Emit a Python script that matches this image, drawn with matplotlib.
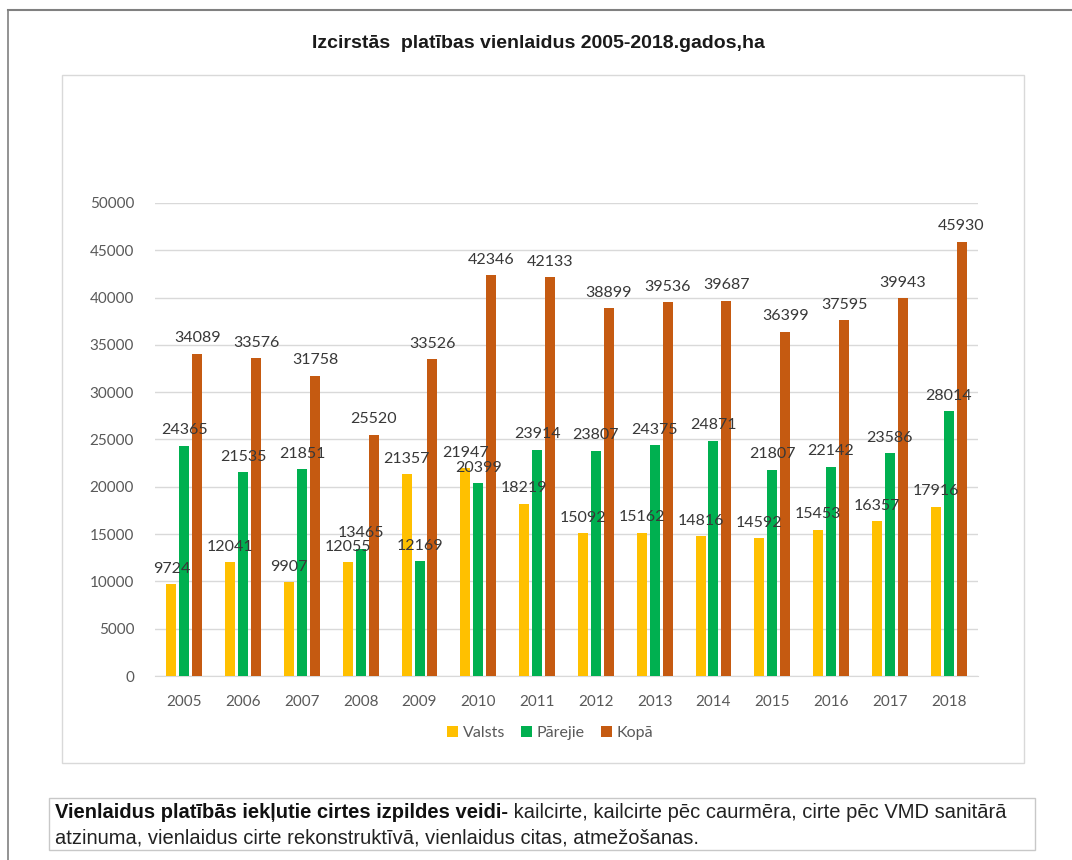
import numpy as np
import matplotlib
matplotlib.use('Agg')
import matplotlib.pyplot as plt
from matplotlib.patches import Rectangle
from matplotlib.lines import Line2D

# dati
years = ['2005', '2006', '2007', '2008', '2009', '2010', '2011',
         '2012', '2013', '2014', '2015', '2016', '2017', '2018']
valsts = [9724, 12041, 9907, 12055, 21357, 21947, 18219,
          15092, 15162, 14816, 14592, 15453, 16357, 17916]
parejie = [24365, 21535, 21851, 13465, 12169, 20399, 23914,
           23807, 24375, 24871, 21807, 22142, 23586, 28014]
kopa = [34089, 33576, 31758, 25520, 33526, 42346, 42133,
        38899, 39536, 39687, 36399, 37595, 39943, 45930]
series_names = ['Valsts', 'Pārejie', 'Kopā']
colors = ['#FFC000', '#00B050', '#C55A11']

W, H = 1072, 860
fig = plt.figure(figsize=(W / 100, H / 100), dpi=100)

def px(x0, y0, x1, y1):
    # pikseļi -> figūras koordinātas
    return [x0 / W, 1 - y1 / H, (x1 - x0) / W, (y1 - y0) / H]

# ārējais rāmis un diagrammas rāmis
fig.add_artist(Line2D([8 / W, 1], [1 - 10 / H, 1 - 10 / H], color='#808080', lw=1.5))
fig.add_artist(Line2D([8 / W, 8 / W], [0, 1 - 10 / H], color='#808080', lw=1.2))
fig.add_artist(Rectangle((62 / W, 1 - 763 / H), (1024 - 62) / W, (763 - 75) / H,
                         fill=False, edgecolor='#D9D9D9', lw=1.0))

sans = ['Liberation Sans', 'DejaVu Sans']
fig.text(538 / W, 1 - 43 / H, 'Izcirstās  platības vienlaidus 2005-2018.gados,ha',
         ha='center', va='center', fontsize=14, fontweight='bold',
         family=sans, color='#1a1a1a')

ax = fig.add_axes(px(155, 203, 978, 676))
x = np.arange(len(years))
off = 0.22
bw = 0.17
lab_font = ['Lato', 'DejaVu Sans']
for k, (vals, name, c) in enumerate(zip([valsts, parejie, kopa], series_names, colors)):
    xs = x + (k - 1) * off
    ax.bar(xs, vals, width=bw, color=c, label=name, zorder=3)
    for xi, v in zip(xs, vals):
        ax.annotate(str(v), (xi, v), xytext=(0, 6), textcoords='offset points',
                    ha='center', va='bottom', fontsize=11.5, color='#383838',
                    family=lab_font, zorder=4, annotation_clip=False)

ax.set_xlim(-0.5, len(years) - 0.5)
ax.set_ylim(0, 50000)
ax.set_yticks(np.arange(0, 50001, 5000))
ax.set_xticks(x)
ax.set_xticklabels(years)
ax.grid(axis='y', color='#D9D9D9', lw=1.0, zorder=0)
for s in ['top', 'right', 'left']:
    ax.spines[s].set_visible(False)
ax.spines['bottom'].set_color('#D9D9D9')
ax.tick_params(length=0, labelsize=11, colors='#595959')
ax.tick_params(axis='y', pad=15)
ax.tick_params(axis='x', pad=14)
for t in ax.get_xticklabels() + ax.get_yticklabels():
    t.set_family(lab_font)

leg = fig.legend(loc='center', bbox_to_anchor=(550 / W, 1 - 733 / H), ncol=3,
                 frameon=False, handlelength=0.7, handleheight=0.7,
                 handletextpad=0.3, columnspacing=1.0, prop={'family': lab_font, 'size': 11.5})
for t in leg.get_texts():
    t.set_color('#595959')

# apakšējais teksta lodziņš
fig.add_artist(Rectangle((49 / W, 1 - 850 / H), (1035 - 49) / W, (850 - 798) / H,
                         fill=False, edgecolor='#C8C8C8', lw=1.0))
fs = 14.5
t1 = fig.text(55 / W, 1 - 812 / H, 'Vienlaidus platībās iekļutie cirtes izpildes veidi-',
              ha='left', va='center', fontsize=fs, fontweight='bold', family=sans, color='#111111')
fig.canvas.draw()
bb = t1.get_window_extent()
fig.text(bb.x1 / W, 1 - 812 / H, ' kailcirte, kailcirte pēc caurmēra, cirte pēc VMD sanitārā',
         ha='left', va='center', fontsize=fs, family=sans, color='#222222')
fig.text(55 / W, 1 - 838 / H, 'atzinuma, vienlaidus cirte rekonstruktīvā, vienlaidus citas, atmežošanas.',
         ha='left', va='center', fontsize=fs, family=sans, color='#222222')

fig.savefig('out.png', dpi=100)
